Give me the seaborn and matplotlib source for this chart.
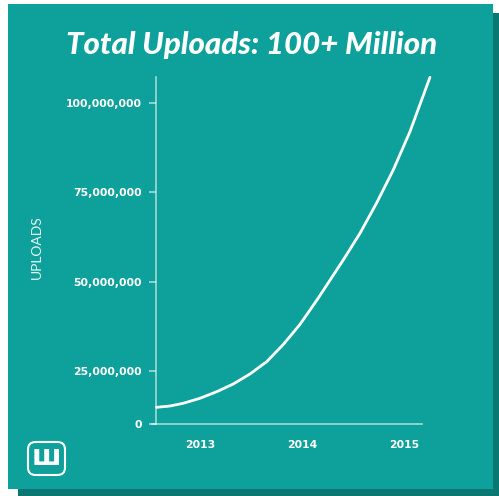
"""
Total uploads growth curve on a teal card.
"""

import pandas as pd
import matplotlib.pyplot as plt
import matplotlib.patches as mpatches
import matplotlib.ticker as mticker
import seaborn as sns

# values (year fraction, uploads)
YEARS = [2012.575, 2012.706, 2012.836, 2013.0, 2013.164, 2013.326,
         2013.49, 2013.654, 2013.817, 2013.98, 2014.157, 2014.405,
         2014.569, 2014.732, 2014.895, 2015.059, 2015.255]
UPLOADS = [14.85e6, 15.21e6, 15.97e6, 17.37e6, 19.21e6, 21.36e6,
           24.16e6, 27.6e6, 32.41e6, 38.0e6, 45.27e6, 56.04e6,
           63.51e6, 71.98e6, 81.21e6, 91.92e6, 107.13e6]

X_TICKS = [2013, 2014, 2015]
X_LABELS = ["2013", "2014", "2015"]
# the bottom of the axis is labelled "0" on the card
Y_BOTTOM = 10.32e6
Y_TICKS = [Y_BOTTOM, 25e6, 50e6, 75e6, 100e6]
Y_LABELS = ["0", "25,000,000", "50,000,000", "75,000,000", "100,000,000"]

TEAL = "#0ea19b"
SHADOW = "#0a7772"
AXIS_COL = (1, 1, 1, 0.6)

sns.set_theme(style="white")
plt.rcParams["font.family"] = ["Lato", "DejaVu Sans"]

df = pd.DataFrame({"year": YEARS, "uploads": UPLOADS})

fig = plt.figure(figsize=(4.99, 4.96), dpi=100)
fig.patch.set_facecolor("white")

W, H = 499, 496


def px(x0, y0, x1, y1):
    # pixel box (top-left origin) -> figure fraction rect
    return (x0 / W, 1 - y1 / H, (x1 - x0) / W, (y1 - y0) / H)


# card shadow and card
for (x0, y0, x1, y1), col in [((18, 13, 499, 496), SHADOW), ((8, 4, 493, 489), TEAL)]:
    l, b, w, h = px(x0, y0, x1, y1)
    fig.patches.append(mpatches.Rectangle((l, b), w, h, transform=fig.transFigure,
                                          facecolor=col, edgecolor="none", zorder=-2))

ax = fig.add_axes(px(156, 77, 432, 423.5))
ax.set_facecolor("none")

sns.lineplot(data=df, x="year", y="uploads", ax=ax, color="white",
             linewidth=2, clip_on=False)

ax.set_xlim(2012.569, 2015.275)
ax.set_ylim(Y_BOTTOM, 107.2e6)

for s in ["top", "right"]:
    ax.spines[s].set_visible(False)
for s in ["left", "bottom"]:
    ax.spines[s].set_color(AXIS_COL)
    ax.spines[s].set_linewidth(1.2)
ax.spines["bottom"].set_bounds(2012.53, 2015.18)

ax.xaxis.set_major_locator(mticker.FixedLocator(X_TICKS))
ax.set_xticklabels(X_LABELS)
ax.yaxis.set_major_locator(mticker.FixedLocator(Y_TICKS))
ax.set_yticklabels(Y_LABELS)

ax.tick_params(axis="x", length=0, pad=12, labelsize=7.8, labelcolor="white")
ax.tick_params(axis="y", length=5, width=1.2, color=AXIS_COL, pad=5,
               labelsize=7.8, labelcolor="white", left=True)
for lab in ax.get_xticklabels() + ax.get_yticklabels():
    lab.set_fontweight("bold")
    lab.set_family("DejaVu Sans")

ax.set_xlabel("")
ax.set_ylabel("")
fig.text(37 / W, 1 - 247 / H, "UPLOADS", rotation=90, color=(1, 1, 1, 0.9),
         fontsize=10, fontstretch="normal", ha="center", va="center")

fig.text(252 / W, 1 - 45 / H, "Total Uploads: 100+ Million", color="white",
         fontsize=22.5, fontweight="black", fontstyle="italic", fontstretch="normal",
         ha="center", va="center")

# logo in the bottom-left corner
l, b, w, h = px(28, 442, 65, 475)
fig.patches.append(mpatches.FancyBboxPatch((l, b), w, h, transform=fig.transFigure,
                                           boxstyle="round,pad=0,rounding_size=0.015",
                                           facecolor="none", edgecolor="white",
                                           linewidth=1.5, zorder=2))
fig.text(46.5 / W, 1 - 457 / H, "ш", color="white", fontsize=20,
         fontweight="bold", ha="center", va="center", family="DejaVu Sans")

fig.savefig("out.png", dpi=100)
